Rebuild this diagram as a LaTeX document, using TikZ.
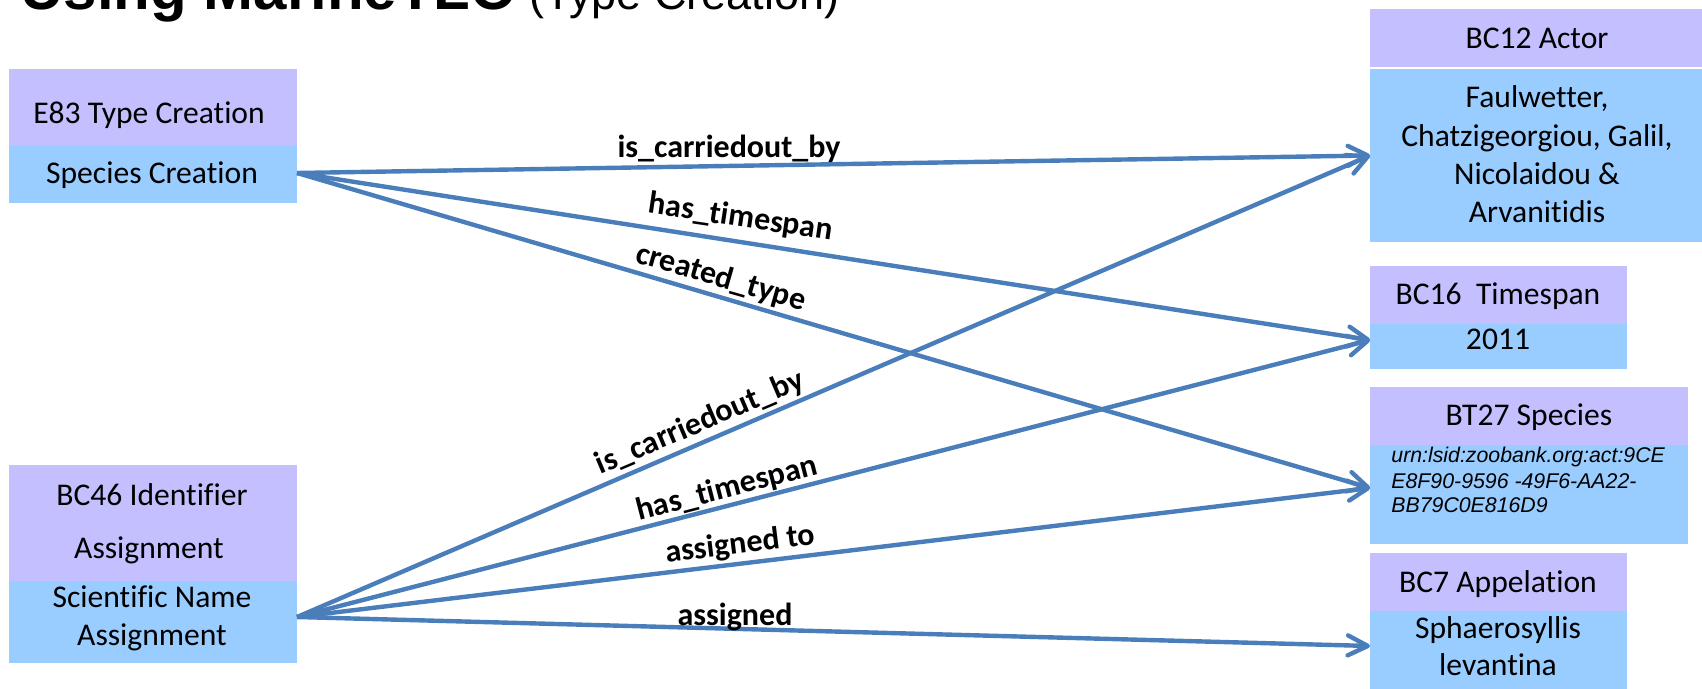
\documentclass[tikz,border=0pt]{standalone}
\usepackage{fontspec}
\setmainfont{Carlito}[Ligatures={NoCommon}]
\newfontfamily\arialf{Liberation Sans}
\usetikzlibrary{arrows.meta}
\definecolor{hdr}{RGB}{196,192,255}
\definecolor{val}{RGB}{153,204,255}
\definecolor{arr}{RGB}{74,126,187}
\begin{document}
\begin{tikzpicture}[x=0.5pt,y=-0.5pt,
  hbox/.style={fill=hdr,draw=none,inner sep=0pt,outer sep=0pt,anchor=north west},
  vbox/.style={fill=val,draw=none,inner sep=0pt,outer sep=0pt,anchor=north west},
  txt/.style={font=\fontsize{15.8}{19}\selectfont,anchor=base,inner sep=0pt},
  urn/.style={font=\arialf\itshape\fontsize{10.65}{12.5}\selectfont,anchor=base west,inner sep=0pt},
  lbl/.style={font=\fontsize{16}{19}\selectfont\bfseries,inner sep=0pt},
  rel/.style={draw=arr,line width=2.2pt,-{Straight Barb[length=10pt,width=10pt,round]}}]
\useasboundingbox (0,0) rectangle (1702,689);
\fill[white] (0,0) rectangle (1702,689);
% title
\node[anchor=base west,inner sep=0pt] (title) at (20,10)
  {\arialf{\fontsize{30}{31}\selectfont\bfseries Using MarineTLO}\hspace{6pt}{\fontsize{22.5}{24}\selectfont(Type Creation)}};
% left boxes
\node[hbox,minimum width=144pt,minimum height=38.5pt] (e83h) at (9,69) {};
\node[vbox,minimum width=144pt,minimum height=28.5pt] (e83v) at (9,146) {};
\node[txt] (e83t) at (149,124) {E83 Type Creation};
\node[txt] (e83s) at (152,184) {Species Creation};
\node[hbox,minimum width=144pt,minimum height=58pt] (bc46h) at (9,465) {};
\node[vbox,minimum width=144pt,minimum height=41pt] (bc46v) at (9,581) {};
\node[txt] (bc46a) at (152,505) {BC46 Identifier};
\node[txt] (bc46b) at (149,558) {Assignment};
\node[txt] (bc46c) at (152,607) {Scientific Name};
\node[txt] (bc46d) at (152,645) {Assignment};
% right boxes
\node[hbox,minimum width=166pt,minimum height=29pt] (bc12h) at (1370,9) {};
\node[vbox,minimum width=166pt,minimum height=86.5pt] (bc12v) at (1370,69) {};
\node[txt] (bc12t) at (1537,49) {BC12 Actor};
\node[txt] (bc12a) at (1537,108) {Faulwetter,};
\node[txt] (bc12b) at (1537,147) {Chatzigeorgiou, Galil,};
\node[txt] (bc12c) at (1537,185) {Nicolaidou \&};
\node[txt] (bc12d) at (1537,223) {Arvanitidis};
\node[hbox,minimum width=128.5pt,minimum height=29pt] (bc16h) at (1370,266) {};
\node[vbox,minimum width=128.5pt,minimum height=22.5pt] (bc16v) at (1370,324) {};
\node[txt] (bc16t) at (1498,305) {BC16\ \ Timespan};
\node[txt] (bc16a) at (1498,350) {2011};
\node[hbox,minimum width=159pt,minimum height=29pt] (bt27h) at (1370,387) {};
\node[vbox,minimum width=159pt,minimum height=49.5pt] (bt27v) at (1370,445) {};
\node[txt] (bt27t) at (1529,426) {BT27 Species};
\node[urn] (bt27a) at (1391,462) {urn:lsid:zoobank.org:act:9CE};
\node[urn] (bt27b) at (1391,488) {E8F90-9596 -49F6-AA22-};
\node[urn] (bt27c) at (1391,512) {BB79C0E816D9};
\node[hbox,minimum width=128.5pt,minimum height=29pt] (bc7h) at (1370,553) {};
\node[vbox,minimum width=128.5pt,minimum height=39pt] (bc7v) at (1370,611) {};
\node[txt] (bc7t) at (1498,592) {BC7 Appelation};
\node[txt] (bc7a) at (1498,638) {Sphaerosyllis};
\node[txt] (bc7b) at (1498,675) {levantina};
% connectors
\draw[rel] ([yshift=0.75pt]e83v.east) -- (bc12v.west);
\draw[rel] ([yshift=0.75pt]e83v.east) -- ([yshift=3.25pt]bc16v.west);
\draw[rel] ([yshift=0.75pt]e83v.east) -- ([yshift=3.25pt]bt27v.west);
\draw[rel] ([yshift=2.5pt]bc46v.east) -- (bc12v.west);
\draw[rel] ([yshift=2.5pt]bc46v.east) -- ([yshift=3.25pt]bc16v.west);
\draw[rel] ([yshift=2.5pt]bc46v.east) -- ([yshift=3.25pt]bt27v.west);
\draw[rel] ([yshift=2.5pt]bc46v.east) -- ([yshift=2pt]bc7v.west);
% labels
\node[lbl] (l1) at (729,149) {is\_carriedout\_by};
\node[lbl,rotate=-8.5] (l2) at (741,218) {has\_timespan};
\node[lbl,rotate=-16] (l3) at (721,278) {created\_type};
\node[lbl,rotate=23] (l4) at (700,423) {is\_carriedout\_by};
\node[lbl,rotate=14.5] (l5) at (727,489) {has\_timespan};
\node[lbl,rotate=7] (l6) at (740,545) {assigned to};
\node[lbl] (l7) at (735,617) {assigned};
\end{tikzpicture}
\end{document}
